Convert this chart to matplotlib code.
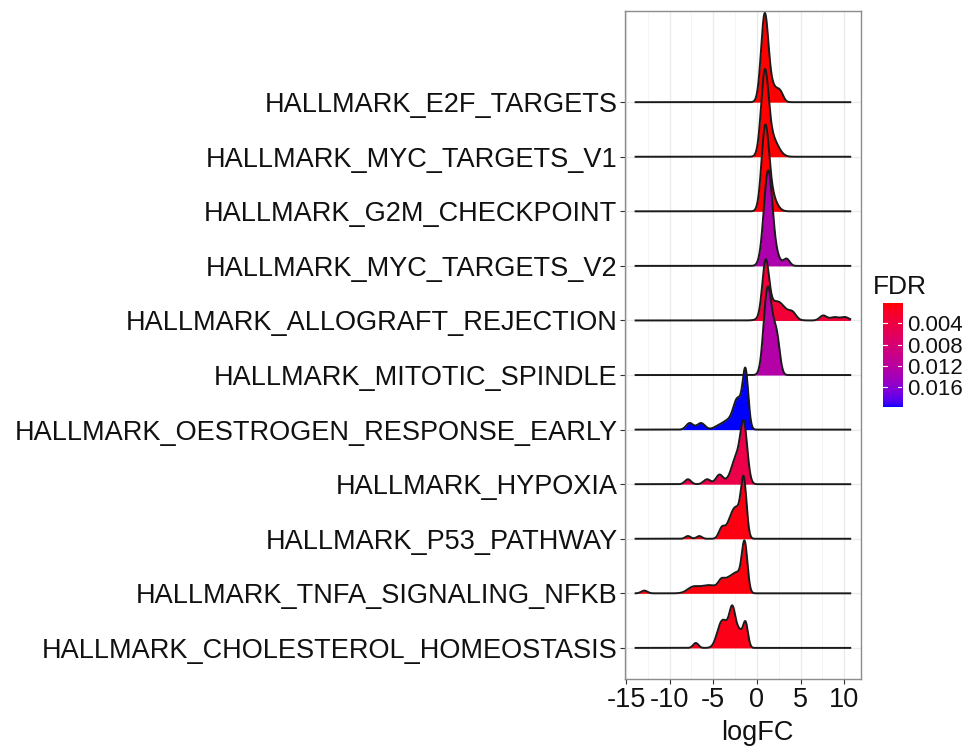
import numpy as np
import matplotlib
matplotlib.use("Agg")
import matplotlib.pyplot as plt

plt.rcParams['font.family'] = ['Liberation Sans', 'DejaVu Sans']

# pathways from top to bottom
pathways = [
    "HALLMARK_E2F_TARGETS",
    "HALLMARK_MYC_TARGETS_V1",
    "HALLMARK_G2M_CHECKPOINT",
    "HALLMARK_MYC_TARGETS_V2",
    "HALLMARK_ALLOGRAFT_REJECTION",
    "HALLMARK_MITOTIC_SPINDLE",
    "HALLMARK_OESTROGEN_RESPONSE_EARLY",
    "HALLMARK_HYPOXIA",
    "HALLMARK_P53_PATHWAY",
    "HALLMARK_TNFA_SIGNALING_NFKB",
    "HALLMARK_CHOLESTEROL_HOMEOSTASIS",
]
fdr = [0.0002, 0.0002, 0.0003, 0.0130, 0.0030, 0.0125, 0.0197, 0.0045, 0.0008, 0.0006, 0.0010]

# logFC range covered by the ridges
logfc_min, logfc_max = -13.9, 10.7

# density bumps: (logFC centre, width, height in row units)
e2f_bumps = [(0.9, 0.42, 1.60), (1.9, 0.5, 0.25), (2.7, 0.35, 0.15)]
myc1_bumps = [(0.9, 0.42, 1.42), (1.7, 0.7, 0.35)]
g2m_bumps = [(0.95, 0.42, 1.42), (1.6, 0.6, 0.30)]
myc2_bumps = [(1.3, 0.5, 1.75), (2.4, 0.4, 0.10), (3.4, 0.35, 0.13)]
allo_bumps = [(1.0, 0.38, 0.97), (2.3, 1.0, 0.35), (4.1, 0.4, 0.10),
              (7.6, 0.4, 0.09), (8.9, 0.5, 0.06), (10.1, 0.45, 0.06)]
mitotic_bumps = [(1.15, 0.42, 1.36), (1.7, 0.4, 0.55), (2.3, 0.35, 0.60)]
oestro_bumps = [(-1.3, 0.32, 1.02), (-2.2, 0.5, 0.55), (-3.4, 0.6, 0.15),
                (-4.5, 0.5, 0.05), (-6.4, 0.45, 0.12), (-7.7, 0.4, 0.12)]
hypoxia_bumps = [(-1.5, 0.4, 1.08), (-2.4, 0.5, 0.45), (-3.3, 0.5, 0.05),
                 (-4.3, 0.4, 0.17), (-5.7, 0.4, 0.09), (-7.9, 0.35, 0.09)]
p53_bumps = [(-1.5, 0.32, 1.0), (-2.4, 0.55, 0.55), (-3.2, 0.4, 0.15),
             (-4.0, 0.35, 0.20), (-6.6, 0.3, 0.05), (-7.9, 0.3, 0.05)]
tnfa_bumps = [(-1.4, 0.32, 0.88), (-2.2, 0.5, 0.30), (-3.2, 0.6, 0.24),
              (-4.1, 0.35, 0.12), (-5.5, 1.2, 0.15), (-7.4, 0.6, 0.08),
              (-12.9, 0.35, 0.05)]
chol_bumps = [(-2.8, 0.36, 0.70), (-4.1, 0.5, 0.42), (-3.5, 0.4, 0.20),
              (-2.0, 0.35, 0.28), (-1.3, 0.28, 0.45), (-7.0, 0.3, 0.09)]

ridges = [e2f_bumps, myc1_bumps, g2m_bumps, myc2_bumps, allo_bumps, mitotic_bumps,
          oestro_bumps, hypoxia_bumps, p53_bumps, tnfa_bumps, chol_bumps]


# ggplot-style red -> blue gradient (interpolated in Lab space)
def srgb_to_lab(rgb):
    c = np.asarray(rgb, float)
    c = np.where(c <= 0.04045, c / 12.92, ((c + 0.055) / 1.055) ** 2.4)
    m = np.array([[0.4124, 0.3576, 0.1805],
                  [0.2126, 0.7152, 0.0722],
                  [0.0193, 0.1192, 0.9505]])
    xyz = m @ c / np.array([0.95047, 1.0, 1.08883])
    f = np.where(xyz > (6 / 29) ** 3, np.cbrt(xyz), xyz / (3 * (6 / 29) ** 2) + 4 / 29)
    return np.array([116 * f[1] - 16, 500 * (f[0] - f[1]), 200 * (f[1] - f[2])])


def lab_to_srgb(lab):
    L, a, b = lab
    fy = (L + 16) / 116
    f = np.array([fy + a / 500, fy, fy - b / 200])
    xyz = np.where(f > 6 / 29, f ** 3, 3 * (6 / 29) ** 2 * (f - 4 / 29))
    xyz = xyz * np.array([0.95047, 1.0, 1.08883])
    m = np.array([[3.2406, -1.5372, -0.4986],
                  [-0.9689, 1.8758, 0.0415],
                  [0.0557, -0.2040, 1.0570]])
    c = m @ xyz
    c = np.where(c <= 0.0031308, 12.92 * c, 1.055 * np.clip(c, 0, None) ** (1 / 2.4) - 0.055)
    return np.clip(c, 0, 1)


lab_low = srgb_to_lab([1, 0, 0])
lab_high = srgb_to_lab([0, 0, 1])
fdr_lo, fdr_hi = min(fdr), max(fdr)


def fdr_colour(v):
    t = (v - fdr_lo) / (fdr_hi - fdr_lo)
    return lab_to_srgb(lab_low + t * (lab_high - lab_low))


fig = plt.figure(figsize=(9.71, 7.46), dpi=100)
ax = fig.add_axes([0.6437, 0.0898, 0.2430, 0.8954])

grid_x = np.linspace(logfc_min, logfc_max, 800)
n = len(pathways)
for i, (bumps, v) in enumerate(zip(ridges, fdr)):
    y0 = n - i
    h = np.zeros_like(grid_x)
    for c, s, a in bumps:
        h += a * np.exp(-(grid_x - c) ** 2 / (2 * s ** 2))
    ax.fill_between(grid_x, y0, y0 + h, color=fdr_colour(v), lw=0, zorder=2 + 2 * i)
    ax.plot(grid_x, y0 + h, color="#1a1a1a", lw=1.4, zorder=3 + 2 * i)

ax.set_xlim(-15.11, 11.93)
ax.set_ylim(0.43, 12.67)
ax.set_xticks([-15, -10, -5, 0, 5, 10])
ax.set_xticklabels(["-15", "-10", "-5", "0", "5", "10"])
ax.set_xticks([-12.5, -7.5, -2.5, 2.5, 7.5], minor=True)
ax.set_yticks(range(n, 0, -1))
ax.set_yticklabels(pathways)
ax.grid(True, which="major", color="#ebebeb", lw=1.0, zorder=0)
ax.grid(True, which="minor", axis="x", color="#f2f2f2", lw=0.6, zorder=0)
ax.set_axisbelow(True)
for sp in ax.spines.values():
    sp.set_color("#8c8c8c")
    sp.set_linewidth(1.0)
ax.tick_params(axis="both", which="major", length=3.5, width=0.8, color="#333333",
               labelsize=19.5, labelcolor="#111111", pad=2)
ax.tick_params(axis="x", which="minor", length=0)
ax.set_xlabel("logFC", fontsize=19.5, color="#111111")
ax.xaxis.set_label_coords(0.56, -0.062)

# colour bar
cax = fig.add_axes([0.9094, 0.4544, 0.0196, 0.1394])
vals = np.linspace(fdr_lo, fdr_hi, 200)
grad = np.array([fdr_colour(v) for v in vals])[:, None, :]
cax.imshow(grad, aspect="auto", extent=[0, 1, fdr_hi, fdr_lo])
cax.set_xlim(0, 1)
cax.set_ylim(fdr_hi, fdr_lo)
cax.set_xticks([])
bar_ticks = [0.004, 0.008, 0.012, 0.016]
cax.set_yticks(bar_ticks)
cax.set_yticklabels(["0.004", "0.008", "0.012", "0.016"])
cax.yaxis.tick_right()
cax.tick_params(axis="y", length=0, labelsize=16, pad=4, labelcolor="#111111")
for t in bar_ticks:
    cax.plot([0, 0.2], [t, t], color="white", lw=0.8)
    cax.plot([0.8, 1], [t, t], color="white", lw=0.8)
for sp in cax.spines.values():
    sp.set_visible(False)
fig.text(0.899, 0.615, "FDR", fontsize=19, color="#111111", va="center", ha="left")

fig.savefig("out.png", dpi=100)
plt.close(fig)
